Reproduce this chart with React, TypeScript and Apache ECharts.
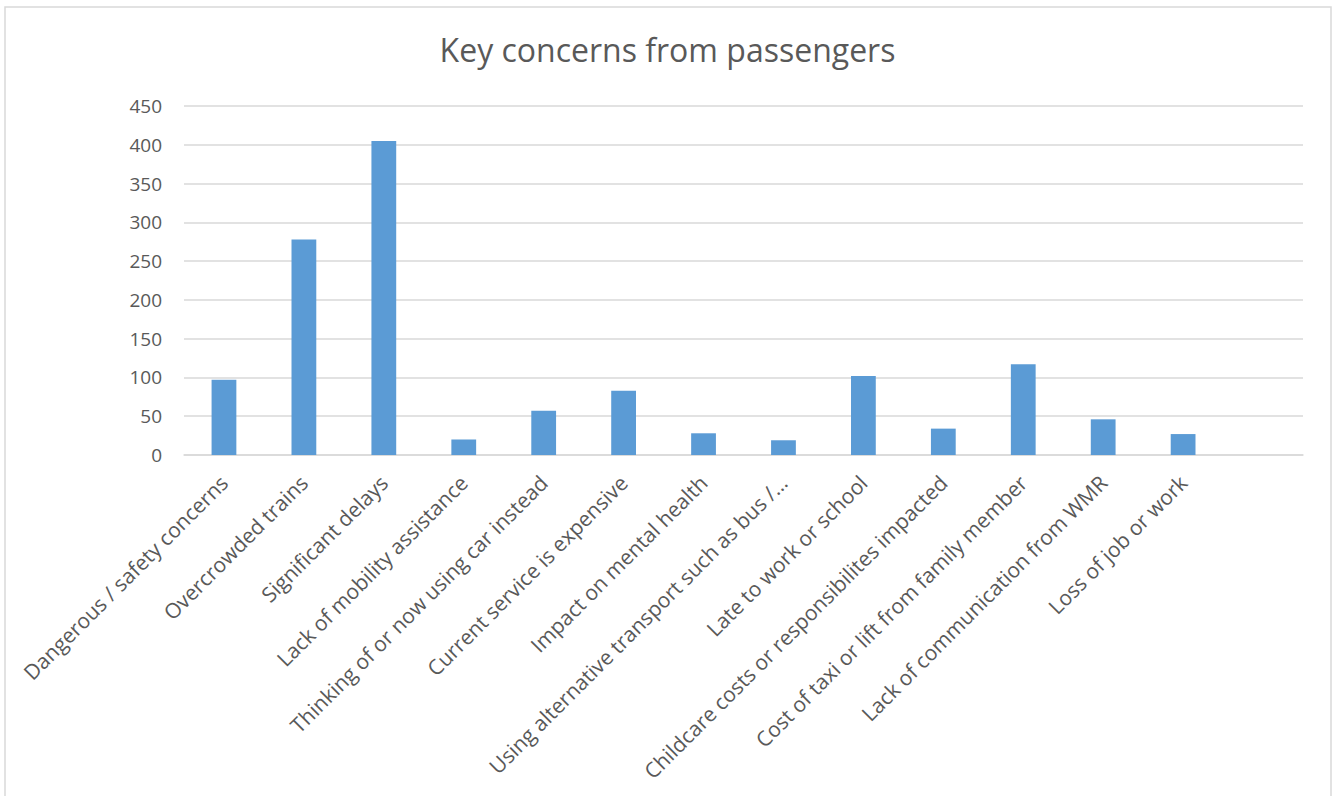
import React, { useEffect, useRef } from "react";
import * as echarts from "echarts";

const title = "Key concerns from passengers";
const categories = [
  "Dangerous / safety concerns",
  "Overcrowded trains",
  "Significant delays",
  "Lack of mobility assistance",
  "Thinking of or now using car instead",
  "Current service is expensive",
  "Impact on mental health",
  "Using alternative transport such as bus /…",
  "Late to work or school",
  "Childcare costs or responsibilites impacted",
  "Cost of taxi or lift from family member",
  "Lack of communication from WMR",
  "Loss of job or work",
  "",
];
const values: (number | null)[] = [97, 278, 405, 20, 57, 83, 28, 19, 102, 34, 117, 46, 27, null];
const yMin = 0;
const yMax = 450;
const yStep = 50;

const FONT = "Open Sans";
const TEXT = "#595959";

export default function App() {
  const ref = useRef<HTMLDivElement>(null);
  useEffect(() => {
    if (!ref.current) return;
    const chart = echarts.init(ref.current, null, { renderer: "svg" });
    chart.setOption({
      animation: false,
      backgroundColor: "#ffffff",
      title: {
        text: title,
        left: "center",
        top: 28,
        textStyle: { fontFamily: FONT, fontSize: 32, fontWeight: "normal", color: TEXT },
      },
      graphic: [
        {
          type: "rect",
          shape: { x: 5, y: 7, width: 1326, height: 800 },
          style: { fill: "none", stroke: "#d9d9d9", lineWidth: 1.5 },
          silent: true,
        },
      ],
      grid: { left: 184, right: 32, top: 106, bottom: 341, containLabel: false },
      xAxis: {
        type: "category",
        data: categories,
        axisTick: { show: false },
        axisLine: { lineStyle: { color: "#d9d9d9", width: 1.5 } },
        axisLabel: {
          interval: 0,
          rotate: 45,
          margin: 24,
          fontFamily: FONT,
          fontSize: 21,
          color: TEXT,
        },
      },
      yAxis: {
        type: "value",
        min: yMin,
        max: yMax,
        interval: yStep,
        axisLine: { show: false },
        axisTick: { show: false },
        splitLine: { lineStyle: { color: "#d9d9d9", width: 1.5 } },
        axisLabel: { fontFamily: FONT, fontSize: 19, color: TEXT, margin: 22 },
      },
      series: [
        {
          type: "bar",
          data: values,
          barWidth: "31%",
          itemStyle: { color: "#5b9bd5" },
        },
      ],
    });
    return () => chart.dispose();
  }, []);
  return (
    <div
      ref={ref}
      style={{ position: "fixed", left: 0, top: 0, width: 1335, height: 796 }}
    />
  );
}
